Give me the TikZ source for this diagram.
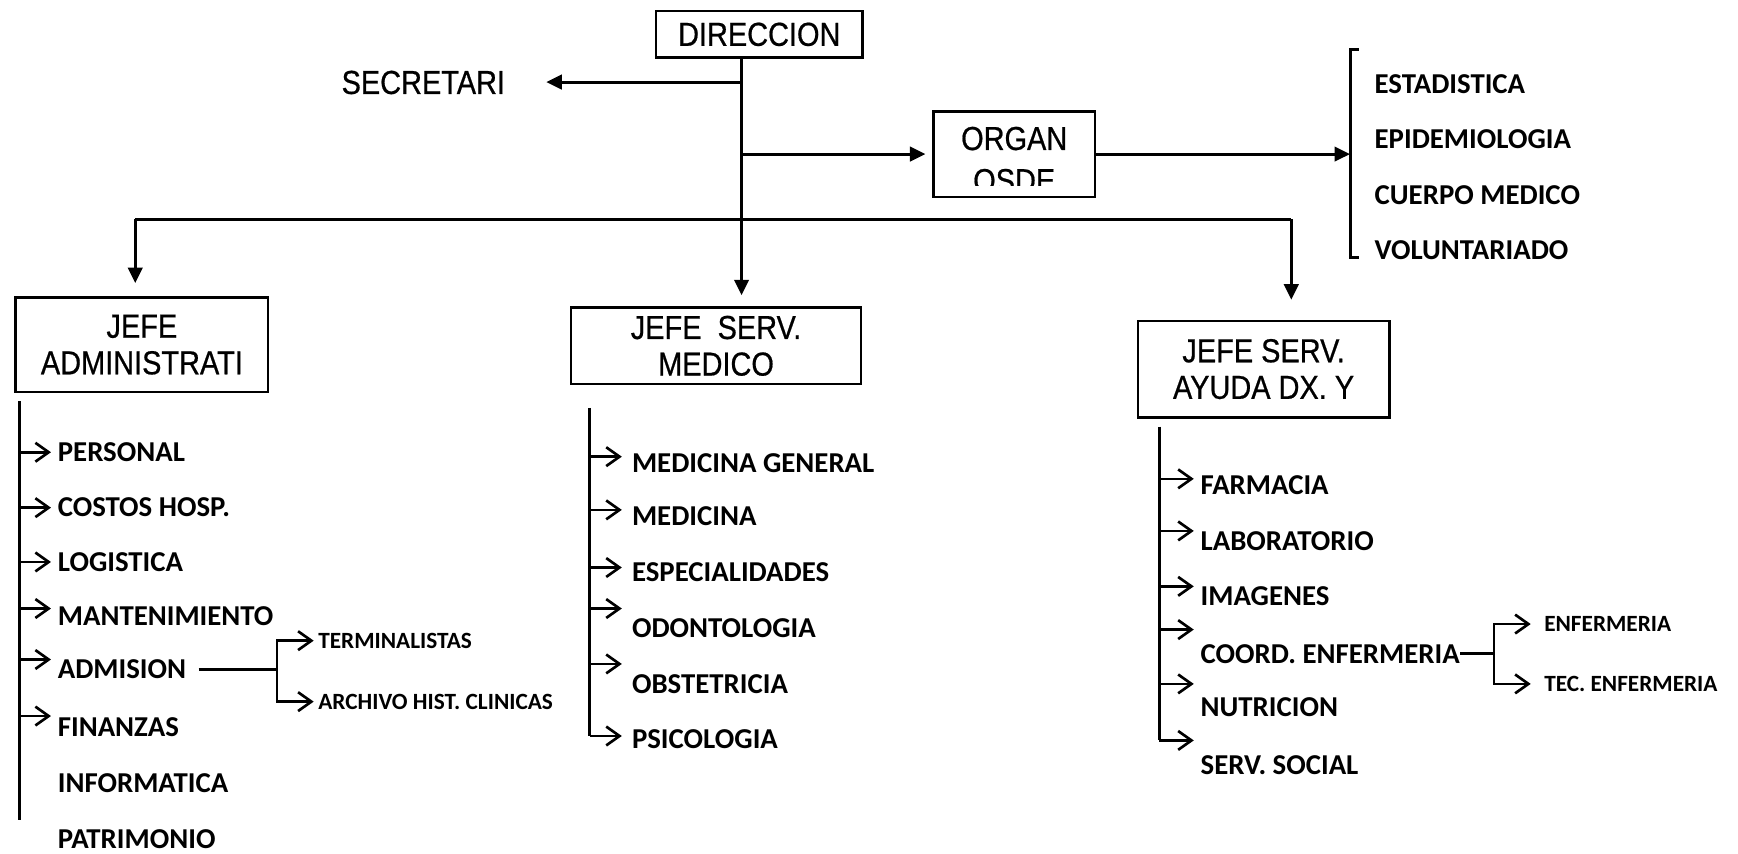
\documentclass[tikz,border=0pt]{standalone}
\usepackage{fontspec}
\setmainfont{Liberation Sans}
\newfontfamily\headfont[FakeStretch=0.87,FakeBold=0.6]{Liberation Sans}
\newfontfamily\listfont{Carlito}
\usetikzlibrary{arrows.meta}

\newcommand{\headsize}{\headfont\fontsize{30}{33}\selectfont}
\newcommand{\itemsize}{\listfont\bfseries\fontsize{26}{30}\selectfont}
\newcommand{\subsize}{\listfont\bfseries\fontsize{21}{26}\selectfont}

\begin{document}
\begin{tikzpicture}[x=1pt,y=-1pt,
    box/.style={draw,line width=2.2pt,align=center,font=\headsize,inner sep=0pt},
    head/.style={font=\headsize,inner sep=0pt,text height=21.5pt,text depth=0pt},
    item/.style={anchor=west,font=\itemsize,inner sep=0pt,text height=16.7pt,text depth=0pt},
    subitem/.style={anchor=west,font=\subsize,inner sep=0pt,text height=13.5pt,text depth=0pt},
    link/.style={line width=2.7pt},
    bigarrow/.style={link,-{Triangle[length=14pt,width=13pt]}},
    smallarrow/.style={line width=2.4pt,-{Straight Barb[length=12pt,width=17pt,line width=2.4pt]}}]
  \useasboundingbox (0,0) rectangle (1568,770);

  % top
  \node[box,minimum width=186pt,minimum height=42pt] (dir) at (685,31) {DIRECCION};
  \node[head,anchor=west] (sec) at (308,74) {SECRETARI};
  \begin{scope}
    \clip (842,101) rectangle (988,167);
    \node[box,draw=none,font=\headfont\fontsize{30}{38}\selectfont] (orgtxt) at (915,144) {ORGAN\\OSDE};
  \end{scope}
  \node[box,minimum width=146pt,minimum height=77pt] (org) at (915,139) {};

  \coordinate (bus) at (669,198);
  \coordinate (busl) at (122,198);
  \coordinate (busr) at (1165,198);
  \coordinate (brtop) at (1218,45);
  \coordinate (brbot) at (1218,232);

  \draw[link] (dir.south -| bus) -- (bus);
  \draw[bigarrow] (sec.east -| bus) -- ([xshift=37pt]sec.east);
  \draw[bigarrow,shorten >=6pt] (org.west -| bus) -- (org.west);
  \draw[bigarrow] (org.east) -- (org.east -| brtop);
  \draw[link] ([xshift=8pt]brtop) -- (brtop) -- (brbot) -- ([xshift=8pt]brbot);

  \node[item] (o1) at (1240,76) {ESTADISTICA};
  \node[item] (o2) at (1240,126) {EPIDEMIOLOGIA};
  \node[item] (o3) at (1240,176) {CUERPO MEDICO};
  \node[item] (o4) at (1240,226) {VOLUNTARIADO};

  % jefes
  \node[box,minimum width=228pt,minimum height=85pt] (adm) at (128,311) {JEFE\\ADMINISTRATI};
  \node[box,minimum width=262pt,minimum height=69pt] (med) at (646,312) {JEFE\ \ SERV.\\MEDICO};
  \node[box,minimum width=227pt,minimum height=87pt] (ayu) at (1140,333) {JEFE SERV.\\AYUDA DX. Y};

  \draw[link] (busl) -- (busr);
  \draw[bigarrow,shorten >=12pt] (busl) -- (busl |- adm.north);
  \draw[bigarrow,shorten >=10pt] (bus) -- (bus |- med.north);
  \draw[bigarrow,shorten >=18pt] (busr) -- (busr |- ayu.north);

  % administracion
  \node[item] (a1) at (52,408) {PERSONAL};
  \node[item] (a2) at (52,458) {COSTOS HOSP.};
  \node[item] (a3) at (52,507) {LOGISTICA};
  \node[item] (a4) at (52,556) {MANTENIMIENTO};
  \node[item] (a5) at (52,604) {ADMISION};
  \node[item] (a6) at (52,656) {FINANZAS};
  \node[item] (a7) at (52,707) {INFORMATICA};
  \node[item] (a8) at (52,757) {PATRIMONIO};
  \node[subitem] (t1) at (287,578) {TERMINALISTAS};
  \node[subitem] (t2) at (287,633) {ARCHIVO HIST. CLINICAS};

  \coordinate (atop) at (18,362);
  \coordinate (abot) at (18,740);
  \coordinate (aj) at (250,604);
  \draw[link] (atop) -- (abot);
  \draw[smallarrow] ([shift={(-34,0)}]a1.west) -- ([shift={(-6,0)}]a1.west);
  \draw[smallarrow] ([shift={(-34,0)}]a2.west) -- ([shift={(-6,0)}]a2.west);
  \draw[smallarrow] ([shift={(-34,0)}]a3.west) -- ([shift={(-6,0)}]a3.west);
  \draw[smallarrow] ([shift={(-34,-7)}]a4.west) -- ([shift={(-6,-7)}]a4.west);
  \draw[smallarrow] ([shift={(-34,-9)}]a5.west) -- ([shift={(-6,-9)}]a5.west);
  \draw[smallarrow] ([shift={(-34,-10)}]a6.west) -- ([shift={(-6,-10)}]a6.west);
  \draw[link] ([xshift=11pt]a5.east) -- (aj);
  \draw[smallarrow,shorten >=4pt] (aj) |- (t1.west);
  \draw[smallarrow,shorten >=4pt] (aj) |- (t2.west);

  % servicio medico
  \node[item] (m1) at (570,418) {MEDICINA GENERAL};
  \node[item] (m2) at (570,466) {MEDICINA};
  \node[item] (m3) at (570,516) {ESPECIALIDADES};
  \node[item] (m4) at (570,567) {ODONTOLOGIA};
  \node[item] (m5) at (570,617) {OBSTETRICIA};
  \node[item] (m6) at (570,667) {PSICOLOGIA};

  \coordinate (mtop) at (532,368);
  \draw[link] (mtop) -- ([shift={(-38,-3)}]m6.west);
  \draw[smallarrow] ([shift={(-38,-6)}]m1.west) -- ([shift={(-9,-6)}]m1.west);
  \draw[smallarrow] ([shift={(-38,-6)}]m2.west) -- ([shift={(-9,-6)}]m2.west);
  \draw[smallarrow] ([shift={(-38,-4)}]m3.west) -- ([shift={(-9,-4)}]m3.west);
  \draw[smallarrow] ([shift={(-38,-18)}]m4.west) -- ([shift={(-9,-18)}]m4.west);
  \draw[smallarrow] ([shift={(-38,-18)}]m5.west) -- ([shift={(-9,-18)}]m5.west);
  \draw[smallarrow] ([shift={(-38,-3)}]m6.west) -- ([shift={(-9,-3)}]m6.west);

  % ayuda dx
  \node[item] (r1) at (1083,438) {FARMACIA};
  \node[item] (r2) at (1083,488) {LABORATORIO};
  \node[item] (r3) at (1083,538) {IMAGENES};
  \node[item] (r4) at (1083,590) {COORD. ENFERMERIA};
  \node[item] (r5) at (1083,638) {NUTRICION};
  \node[item] (r6) at (1083,690) {SERV. SOCIAL};
  \node[subitem] (e1) at (1393,563) {ENFERMERIA};
  \node[subitem] (e2) at (1393,617) {TEC. ENFERMERIA};

  \coordinate (rtop) at (1046,385);
  \coordinate (rj) at (1348,590);
  \draw[link] (rtop) -- ([shift={(-37,-22)}]r6.west);
  \draw[smallarrow] ([shift={(-37,-6)}]r1.west) -- ([shift={(-6,-6)}]r1.west);
  \draw[smallarrow] ([shift={(-37,-9)}]r2.west) -- ([shift={(-6,-9)}]r2.west);
  \draw[smallarrow] ([shift={(-37,-9)}]r3.west) -- ([shift={(-6,-9)}]r3.west);
  \draw[smallarrow] ([shift={(-37,-22)}]r4.west) -- ([shift={(-6,-22)}]r4.west);
  \draw[smallarrow] ([shift={(-37,-21)}]r5.west) -- ([shift={(-6,-21)}]r5.west);
  \draw[smallarrow] ([shift={(-37,-22)}]r6.west) -- ([shift={(-6,-22)}]r6.west);
  \draw[link] (r4.east) -- (rj);
  \draw[smallarrow,shorten >=12pt] (rj) |- (e1.west);
  \draw[smallarrow,shorten >=12pt] (rj) |- (e2.west);
\end{tikzpicture}
\end{document}
